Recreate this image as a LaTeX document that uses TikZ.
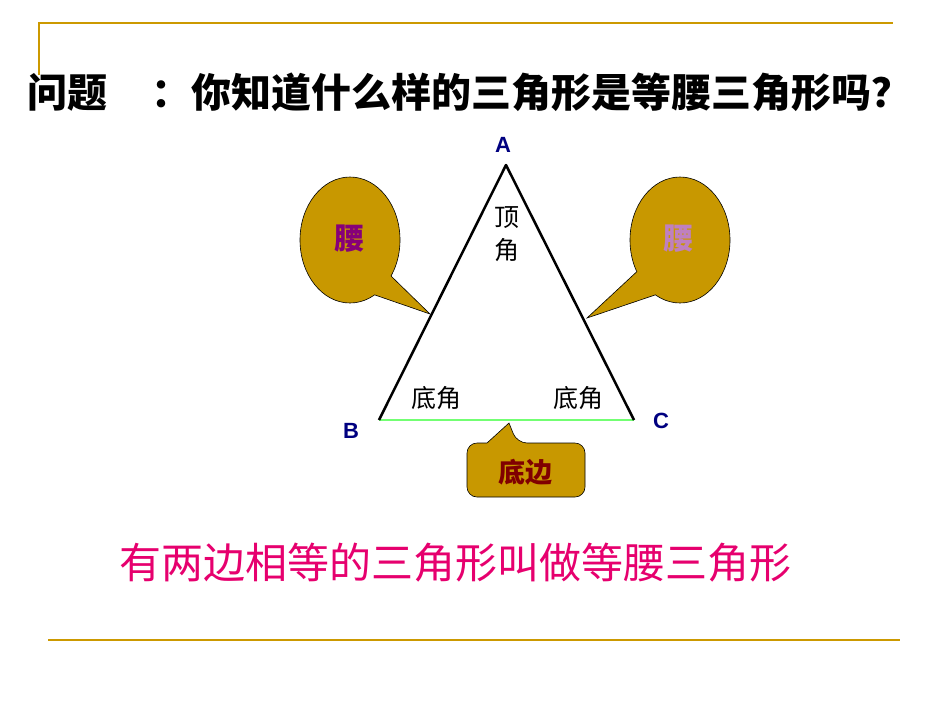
\documentclass[tikz,border=0pt]{standalone}
\usepackage{fontspec}
\usetikzlibrary{shapes.geometric}
\setmainfont{Liberation Sans}
\newfontfamily\cjk{Noto Sans CJK SC}
\definecolor{gold}{RGB}{204,153,0}
\definecolor{olivef}{RGB}{200,152,0}
\definecolor{navyl}{RGB}{0,0,128}
\definecolor{pinkr}{RGB}{230,0,110}
\tikzset{bubble/.style={fill=olivef,draw=black,line width=0.6pt},
lbl/.style={font=\bfseries\fontsize{22}{22}\selectfont,text=navyl}}
\begin{document}
\begin{tikzpicture}[x=1pt,y=-1pt]
\useasboundingbox (0,0) rectangle (950,713);
\draw[gold,line width=1.5pt] (39,75) -- (39,23) -- (893,23);
\draw[gold,line width=1.5pt] (48,640) -- (900,640);
\node[anchor=west,font=\cjk\bfseries\fontsize{40}{40}\selectfont] (title) at (24,92) {问题\hspace{1.1em}：你知道什么样的三角形是等腰三角形吗？};
\coordinate (A) at (506,165);
\coordinate (B) at (379,420);
\coordinate (C) at (634,420);
% bubbles
\node[bubble,ellipse,minimum width=100pt,minimum height=126pt,inner sep=0pt] (e1) at (350,240) {};
\coordinate (t1) at (430,314);
\coordinate (p1) at (391,276);
\coordinate (q1) at (375,295);
\fill[olivef] (p1) -- (t1) -- (q1) -- (360,270) -- cycle;
\draw[line width=0.6pt] (p1) -- (t1) -- (q1);
\node[bubble,ellipse,minimum width=100pt,minimum height=126pt,inner sep=0pt] (e2) at (680,240) {};
\coordinate (t2) at (587,318);
\coordinate (p2) at (655,295);
\coordinate (q2) at (637,271.5);
\fill[olivef] (p2) -- (t2) -- (q2) -- (665,265) -- cycle;
\draw[line width=0.6pt] (p2) -- (t2) -- (q2);
\coordinate (t3) at (509,423);
\draw[bubble,rounded corners=10pt] (487,443) -- (467,443) -- (467,497) -- (585,497) -- (585,443) -- (517,443) [sharp corners] -- (t3) -- (487,443);
\draw[line width=2.5pt,green!55!white] (B) -- (C);
\draw[line width=2.5pt,line join=round] (B) -- (A) -- (C);
\node[lbl] (la) at (503,145) {A};
\node[lbl] (lb) at (351,431) {B};
\node[lbl] (lc) at (661,421) {C};
\node[font=\cjk\fontsize{25}{33}\selectfont,align=center] (top) at (507,234) {顶\\角};
\node[font=\cjk\fontsize{25}{25}\selectfont] (bl) at (436,398) {底角};
\node[font=\cjk\fontsize{25}{25}\selectfont] (br) at (578,398) {底角};
\node[font=\cjk\bfseries\fontsize{30}{30}\selectfont,text=purple!70!blue] (w1) at (349,239) {腰};
\node[font=\cjk\bfseries\fontsize{30}{30}\selectfont,text=violet!50!white] (w2) at (678,239) {腰};
\node[font=\cjk\bfseries\fontsize{27}{27}\selectfont,text=red!50!black] (db) at (525,472) {底边};
\node[anchor=west,font=\cjk\fontsize{42}{42}\selectfont,text=pinkr] (def) at (116,563) {有两边相等的三角形叫做等腰三角形};
\end{tikzpicture}
\end{document}
